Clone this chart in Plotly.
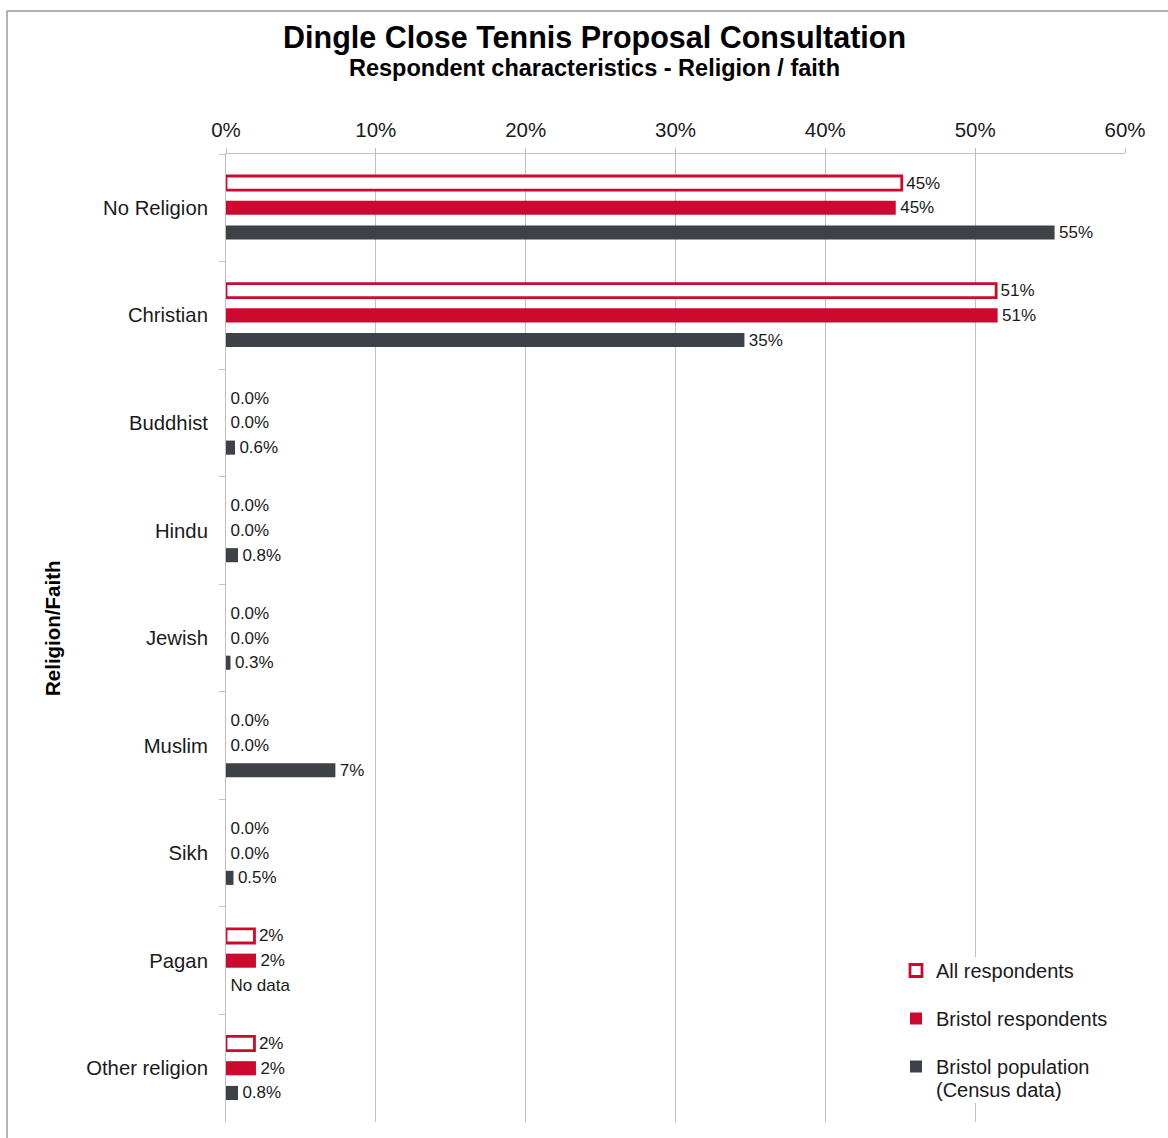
import plotly.graph_objects as go

# Religion / faith categories, top to bottom
categories = ["No Religion", "Christian", "Buddhist", "Hindu", "Jewish",
              "Muslim", "Sikh", "Pagan", "Other religion"]

# Percentages per series
all_respondents = [45.1, 51.4, 0.0, 0.0, 0.0, 0.0, 0.0, 1.9, 1.9]
bristol_respondents = [44.7, 51.5, 0.0, 0.0, 0.0, 0.0, 0.0, 2.0, 2.0]
bristol_population = [55.3, 34.6, 0.6, 0.8, 0.3, 7.3, 0.5, 0.0, 0.8]

# Data labels as printed beside each bar
all_labels = ["45%", "51%", "0.0%", "0.0%", "0.0%", "0.0%", "0.0%", "2%", "2%"]
bristol_labels = ["45%", "51%", "0.0%", "0.0%", "0.0%", "0.0%", "0.0%", "2%", "2%"]
population_labels = ["55%", "35%", "0.6%", "0.8%", "0.3%", "7%", "0.5%", "No data", "0.8%"]

x_ticks = [0, 10, 20, 30, 40, 50, 60]
x_tick_labels = ["0%", "10%", "20%", "30%", "40%", "50%", "60%"]

RED = "#CC0A2F"
DARK = "#3D4148"
GRID = "#BFBFBF"
TEXT = "#1A1A1A"
FONT = "Liberation Sans, Arial, sans-serif"

W, H = 1168, 1138
L, R, T, B = 226, 43, 154, 16
pw, ph = W - L - R, H - T - B


def px_x(x):
    return (x - L) / pw


def px_y(y):
    return (H - B - y) / ph


fig = go.Figure()
series = [
    ("All respondents", all_respondents, all_labels, "white", RED, 2.8),
    ("Bristol respondents", bristol_respondents, bristol_labels, RED, RED, 0),
    ("Bristol population", bristol_population, population_labels, DARK, DARK, 0),
]
for i, (name, vals, labels, fill, edge, lw) in enumerate(series):
    # outline only where there is a bar to outline
    widths = [lw if v > 0 else 0 for v in vals]
    fig.add_trace(go.Bar(
        y=categories, x=vals, orientation="h", name=name,
        legendgroup=f"g{i}",
        marker=dict(color=fill, line=dict(color=edge, width=widths)),
        text=["\u200a" + s for s in labels], textposition="outside",
        constraintext="none",
        textfont=dict(size=17, color=TEXT, family=FONT),
        cliponaxis=False,
    ))

fig.update_layout(
    width=W, height=H,
    margin=dict(l=L, r=R, t=T, b=B),
    paper_bgcolor="white", plot_bgcolor="white",
    font=dict(family=FONT, color=TEXT),
    barmode="group", bargap=0.31, bargroupgap=0.43,
    showlegend=True,
    legend=dict(
        x=px_x(896), y=px_y(951), xanchor="left", yanchor="top",
        font=dict(size=20, color=TEXT, family=FONT),
        bgcolor="rgba(0,0,0,0)", tracegroupgap=19,
        itemwidth=30,
    ),
    xaxis=dict(
        side="top", range=[0, 60], tickvals=x_ticks, ticktext=x_tick_labels,
        showgrid=True, gridcolor=GRID, gridwidth=1,
        showline=True, linecolor=GRID, linewidth=1,
        ticks="outside", ticklen=5, tickcolor=GRID,
        tickfont=dict(size=20.5, color=TEXT, family=FONT),
        ticklabelstandoff=3,
        zeroline=False, fixedrange=True,
    ),
    yaxis=dict(
        autorange="reversed", showline=True, linecolor=GRID, linewidth=1,
        ticks="outside", tickson="boundaries", ticklen=6, tickcolor=GRID,
        tickfont=dict(size=20.3, color=TEXT, family=FONT),
        ticklabelstandoff=13,
        showgrid=False, fixedrange=True,
    ),
)

# White backing behind the legend so gridlines stop at its box
fig.add_shape(type="rect", xref="paper", yref="paper", layer="above",
              x0=px_x(906), x1=px_x(1116), y0=px_y(1103), y1=px_y(957),
              fillcolor="white", line=dict(width=0))

# Second line of the census legend entry
fig.add_annotation(text="(Census data)", xref="paper", yref="paper",
                   x=px_x(934), y=px_y(1090), xanchor="left", yanchor="middle",
                   showarrow=False, font=dict(size=20, color=TEXT, family=FONT))

# Titles
fig.add_annotation(text="<b>Dingle Close Tennis Proposal Consultation</b>",
                   xref="paper", yref="paper", x=px_x(594), y=px_y(37),
                   xanchor="center", yanchor="middle", showarrow=False,
                   font=dict(size=30.5, color="#000", family=FONT))
fig.add_annotation(text="<b>Respondent characteristics - Religion / faith</b>",
                   xref="paper", yref="paper", x=px_x(594), y=px_y(68),
                   xanchor="center", yanchor="middle", showarrow=False,
                   font=dict(size=23.5, color="#000", family=FONT))
fig.add_annotation(text="<b>Religion/Faith</b>", textangle=-90,
                   xref="paper", yref="paper", x=px_x(52), y=px_y(628),
                   xanchor="center", yanchor="middle", showarrow=False,
                   font=dict(size=20.5, color="#000", family=FONT))

# Chart frame (top and left edges)
fig.add_shape(type="line", xref="paper", yref="paper",
              x0=px_x(7), x1=px_x(1175), y0=px_y(11), y1=px_y(11),
              line=dict(color="#999", width=1.5))
fig.add_shape(type="line", xref="paper", yref="paper",
              x0=px_x(7), x1=px_x(7), y0=px_y(11), y1=px_y(1145),
              line=dict(color="#999", width=1.5))

fig.write_html("out.html")
